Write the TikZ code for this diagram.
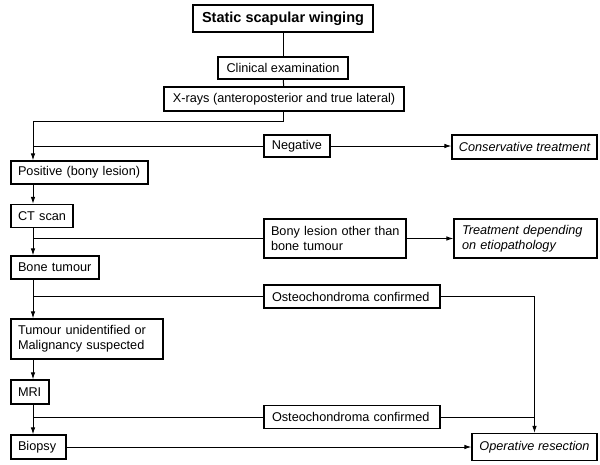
\documentclass[tikz,border=0pt]{standalone}
\usepackage{fontspec}
\setmainfont{Liberation Sans}
\usetikzlibrary{arrows.meta}
\begin{document}
\begin{tikzpicture}[x=1pt,y=-1pt,
  box/.style={draw, line width=1.1pt, inner sep=0pt, font=\fontsize{12.7}{15}\selectfont},
  cbox/.style={box, align=center},
  lbox/.style={box, inner xsep=7pt, align=left},
  conn/.style={line width=1pt},
  arr/.style={conn, -{Latex[length=7pt,width=4.5pt]}}]
\useasboundingbox (0,0) rectangle (600,464);
\coordinate (L) at (33,0);
\node[cbox, minimum width=180pt, minimum height=27pt, font=\fontsize{14.5}{17}\selectfont\bfseries] (title) at (283,18.5) {Static scapular winging};
\node[cbox, minimum width=130pt, minimum height=22pt] (clin) at (283,68) {Clinical examination};
\node[cbox, minimum width=240pt, minimum height=24pt] (xray) at (284,99) {X-rays (anteroposterior and true lateral)};
\node[cbox, minimum width=66pt, minimum height=22pt] (neg) at (297,146) {Negative};
\node[cbox, minimum width=145pt, minimum height=24pt, font=\fontsize{12.7}{15}\selectfont\itshape] (cons) at (524.5,147) {Conservative treatment};
\node[lbox, text width=123pt, minimum height=23pt] (pos) at (79.5,172.5) {\mbox{Positive (bony lesion)}};
\node[lbox, text width=48pt, minimum height=23pt] (ct) at (42,216) {\mbox{CT scan}};
\node[lbox, text width=128pt, minimum height=39pt] (bony) at (335,238.5) {\mbox{Bony lesion other than}\\\mbox{bone tumour}};
\node[lbox, inner xsep=8pt, text width=127pt, minimum height=39pt, font=\fontsize{12.7}{15}\selectfont\itshape] (treat) at (525.5,238.5) {\mbox{Treatment depending}\\\mbox{on etiopathology}};
\node[lbox, text width=74pt, minimum height=23pt] (bone) at (55,267.5) {\mbox{Bone tumour}};
\node[lbox, inner xsep=8pt, text width=160pt, minimum height=23pt] (ost1) at (352,296.5) {\mbox{Osteochondroma confirmed}};
\node[lbox, text width=138pt, minimum height=40pt] (tum) at (87,339) {\mbox{Tumour unidentified or}\\\mbox{Malignancy suspected}};
\node[lbox, text width=24pt, minimum height=24pt] (mri) at (30,392) {\mbox{MRI}};
\node[lbox, inner xsep=8pt, text width=160pt, minimum height=23pt] (ost2) at (352,417) {\mbox{Osteochondroma confirmed}};
\node[lbox, text width=41pt, minimum height=24pt] (bio) at (38.5,447) {\mbox{Biopsy}};
\node[cbox, minimum width=125pt, minimum height=27pt, font=\fontsize{12.7}{15}\selectfont\itshape] (oper) at (534.5,447) {Operative resection};
% connectors
\draw[conn] (title) -- (clin);
\draw[conn] (clin) -- (xray);
\coordinate (j0) at (283,121);
\draw[arr] (xray.south -| j0) -- (j0) -- (j0 -| L) -- (pos.north -| L);
\draw[conn] (neg.west -| L) -- (neg.west);
\draw[arr] (neg.east) -- (cons.west |- neg.east);
\draw[arr] (pos.south -| L) -- (ct.north -| L);
\draw[arr] (ct.south -| L) -- (bone.north -| L);
\draw[conn] (bony.west -| L) -- (bony.west);
\draw[arr] (bony.east) -- (treat.west);
\draw[arr] (bone.south -| L) -- (tum.north -| L);
\draw[conn] (ost1.west -| L) -- (ost1.west);
\draw[arr] (ost1.east) -- (oper.north |- ost1.east) -- (oper.north);
\draw[arr] (tum.south -| L) -- (mri.north -| L);
\draw[arr] (mri.south -| L) -- (bio.north -| L);
\draw[conn] (ost2.west -| L) -- (ost2.west);
\draw[conn] (ost2.east) -- (oper.north |- ost2.east);
\draw[arr] (bio.east) -- (bio.east -| oper.west);
\end{tikzpicture}
\end{document}
